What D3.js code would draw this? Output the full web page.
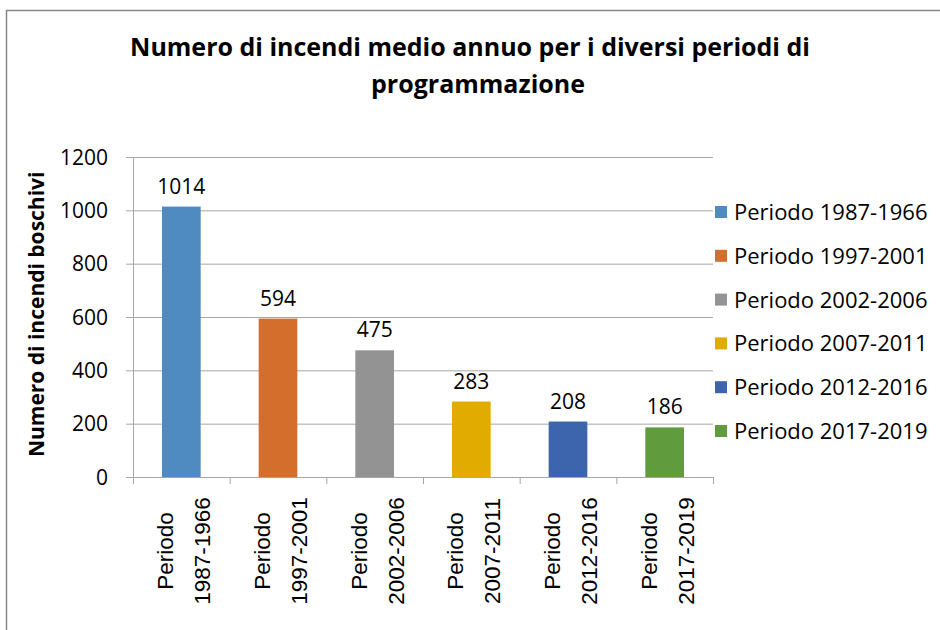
<!DOCTYPE html>
<html>
<head>
<meta charset="utf-8">
<script src="https://cdn.jsdelivr.net/npm/d3@7"></script>
<style>
  body { margin: 0; background: #fff; }
  svg { display: block; }
</style>
</head>
<body>
<div id="chart"></div>
<script>
let width = 940;
let height = 630;
let margin = { top: 157, right: 227, bottom: 153, left: 133 };

// data
let periods = ["1987-1966", "1997-2001", "2002-2006", "2007-2011", "2012-2016", "2017-2019"];
let values = [1014, 594, 475, 283, 208, 186];
let colors = ["#4F8BC0", "#D36E2C", "#939393", "#E2AB00", "#3D65AE", "#609B3E"];
let yTicks = [0, 200, 400, 600, 800, 1000, 1200];

let dataSet = periods.map(function (p, i) {
  return { period: p, value: values[i], color: colors[i] };
});

let svg = d3.select("#chart").append("svg").attr("width", width).attr("height", height);

// chart border
svg.append("rect")
  .attr("x", 6.5).attr("y", 10.5)
  .attr("width", 960).attr("height", 650)
  .attr("fill", "none")
  .attr("stroke", "#878787")
  .attr("stroke-width", 1.5);

// title
let title = svg.append("text")
  .attr("text-anchor", "middle")
  .attr("font-family", "'Open Sans', sans-serif")
  .attr("font-weight", "bold")
  .attr("font-size", 25)
  .attr("fill", "#000");
title.append("tspan").attr("x", 470).attr("y", 56).text("Numero di incendi medio annuo per i diversi periodi di");
title.append("tspan").attr("x", 478).attr("y", 93).text("programmazione");

let xScale = d3.scaleBand()
  .domain(periods)
  .range([margin.left, width - margin.right])
  .paddingInner(0.6)
  .paddingOuter(0.3);

let yScale = d3.scaleLinear()
  .domain([0, 1200])
  .range([height - margin.bottom, margin.top]);

// gridlines
svg.append("g")
  .selectAll("line")
  .data(yTicks)
  .enter()
  .append("line")
  .attr("x1", margin.left - 7)
  .attr("x2", width - margin.right)
  .attr("y1", function (d) { return yScale(d) + 0.5; })
  .attr("y2", function (d) { return yScale(d) + 0.5; })
  .attr("stroke", "#a6a6a6")
  .attr("stroke-width", 1);

// y axis line
svg.append("line")
  .attr("x1", margin.left + 0.5).attr("x2", margin.left + 0.5)
  .attr("y1", margin.top).attr("y2", height - margin.bottom + 7)
  .attr("stroke", "#a6a6a6");

// x category ticks
let bandEdges = d3.range(periods.length + 1).map(function (i) {
  return margin.left + i * xScale.step();
});
svg.append("g")
  .selectAll("line")
  .data(bandEdges)
  .enter()
  .append("line")
  .attr("x1", function (d) { return d + 0.5; })
  .attr("x2", function (d) { return d + 0.5; })
  .attr("y1", height - margin.bottom)
  .attr("y2", height - margin.bottom + 7)
  .attr("stroke", "#a6a6a6");

// y tick labels
svg.append("g")
  .selectAll("text")
  .data(yTicks)
  .enter()
  .append("text")
  .attr("x", margin.left - 25)
  .attr("y", function (d) { return yScale(d); })
  .attr("dy", "0.36em")
  .attr("text-anchor", "end")
  .attr("font-family", "'Open Sans', sans-serif")
  .attr("font-size", 21)
  .attr("fill", "#000")
  .text(function (d) { return d; });

// y axis title
svg.append("text")
  .attr("transform", "translate(44," + yScale(610) + ") rotate(-90)")
  .attr("text-anchor", "middle")
  .attr("font-family", "'Open Sans', sans-serif")
  .attr("font-weight", "bold")
  .attr("font-size", 21)
  .attr("fill", "#000")
  .text("Numero di incendi boschivi");

// bars
svg.append("g")
  .selectAll("rect")
  .data(dataSet)
  .enter()
  .append("rect")
  .attr("x", function (d) { return xScale(d.period); })
  .attr("width", xScale.bandwidth())
  .attr("y", function (d) { return yScale(d.value); })
  .attr("height", function (d) { return yScale(0) - yScale(d.value); })
  .attr("fill", function (d) { return d.color; });

// value labels
svg.append("g")
  .selectAll("text")
  .data(dataSet)
  .enter()
  .append("text")
  .attr("x", function (d) { return xScale(d.period) + xScale.bandwidth() / 2; })
  .attr("y", function (d) { return yScale(d.value) - 13; })
  .attr("text-anchor", "middle")
  .attr("font-family", "'Open Sans', sans-serif")
  .attr("font-size", 21)
  .attr("fill", "#000")
  .text(function (d) { return d.value; });

// x category labels (rotated, two lines)
let xLabels = svg.append("g")
  .selectAll("text")
  .data(dataSet)
  .enter()
  .append("text")
  .attr("transform", function (d) {
    let cx = xScale(d.period) + xScale.bandwidth() / 2;
    return "translate(" + cx + ",551) rotate(-90)";
  })
  .attr("text-anchor", "middle")
  .attr("font-family", "'Liberation Sans', Arial, sans-serif")
  .attr("font-size", 22.5)
  .attr("fill", "#000");
xLabels.append("tspan").attr("x", 0).attr("y", -8).text("Periodo");
xLabels.append("tspan").attr("x", 0).attr("y", 29).text(function (d) { return d.period; });

// legend
let legend = svg.append("g")
  .selectAll("g")
  .data(dataSet)
  .enter()
  .append("g")
  .attr("transform", function (d, i) { return "translate(715," + (212 + i * 43.8) + ")"; });
legend.append("rect")
  .attr("x", 0).attr("y", -6)
  .attr("width", 12).attr("height", 12)
  .attr("fill", function (d) { return d.color; });
legend.append("text")
  .attr("x", 19)
  .attr("y", 0)
  .attr("dy", "0.36em")
  .attr("font-family", "'Open Sans', sans-serif")
  .attr("font-size", 22)
  .attr("fill", "#000")
  .text(function (d) { return "Periodo " + d.period; });
</script>
</body>
</html>
